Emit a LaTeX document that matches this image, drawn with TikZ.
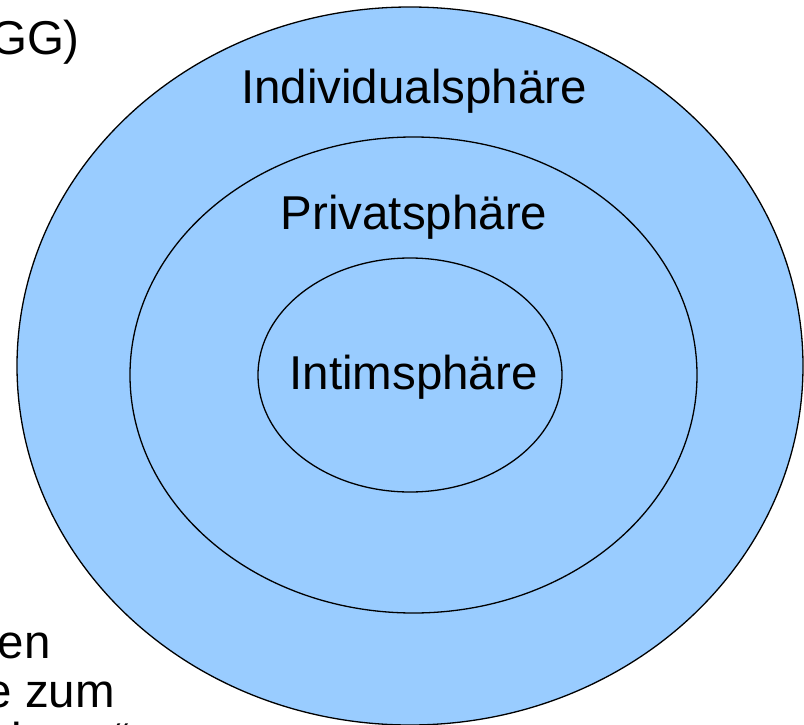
\documentclass[tikz,border=0pt]{standalone}
\usepackage{fontspec}
\setmainfont{Liberation Sans}
\usetikzlibrary{shapes.geometric}
\definecolor{sphereblue}{HTML}{99CCFF}
\tikzset{
  sphere/.style={ellipse, draw=black, line width=1.3pt, fill=sphereblue, inner sep=0pt},
  lbl/.style={anchor=base, inner sep=0pt, font=\fontsize{47.5}{57}\selectfont},
  sidetxt/.style={anchor=base east, inner sep=0pt, font=\fontsize{47.5}{57}\selectfont}
}
\begin{document}
\begin{tikzpicture}[x=1pt,y=1pt]
\useasboundingbox (0,0) rectangle (804,-725);
\begin{scope}
\clip (0,0) rectangle (804,-725);
\node[sphere, minimum width=786pt, minimum height=718pt] (outer) at (410,-366) {};
\node[sphere, minimum width=567pt, minimum height=476pt] (middle) at (413.5,-375) {};
\node[sphere, minimum width=304pt, minimum height=234pt] (inner) at (410,-375) {};
\node[lbl] (indiv) at (414,-103) {Individualsphäre};
\node[lbl] (priv) at (414,-229) {Privatsphäre};
\node[lbl] (intim) at (413.5,-389) {Intimsphäre};
\node[sidetxt] (gg) at (80,-55) {GG)};
\node[sidetxt] (en) at (51,-658) {en};
\node[sidetxt] (zum) at (115,-707) {e zum};
\node[sidetxt] (gest) at (131,-756) {gestaltung“};
\end{scope}
\end{tikzpicture}
\end{document}
